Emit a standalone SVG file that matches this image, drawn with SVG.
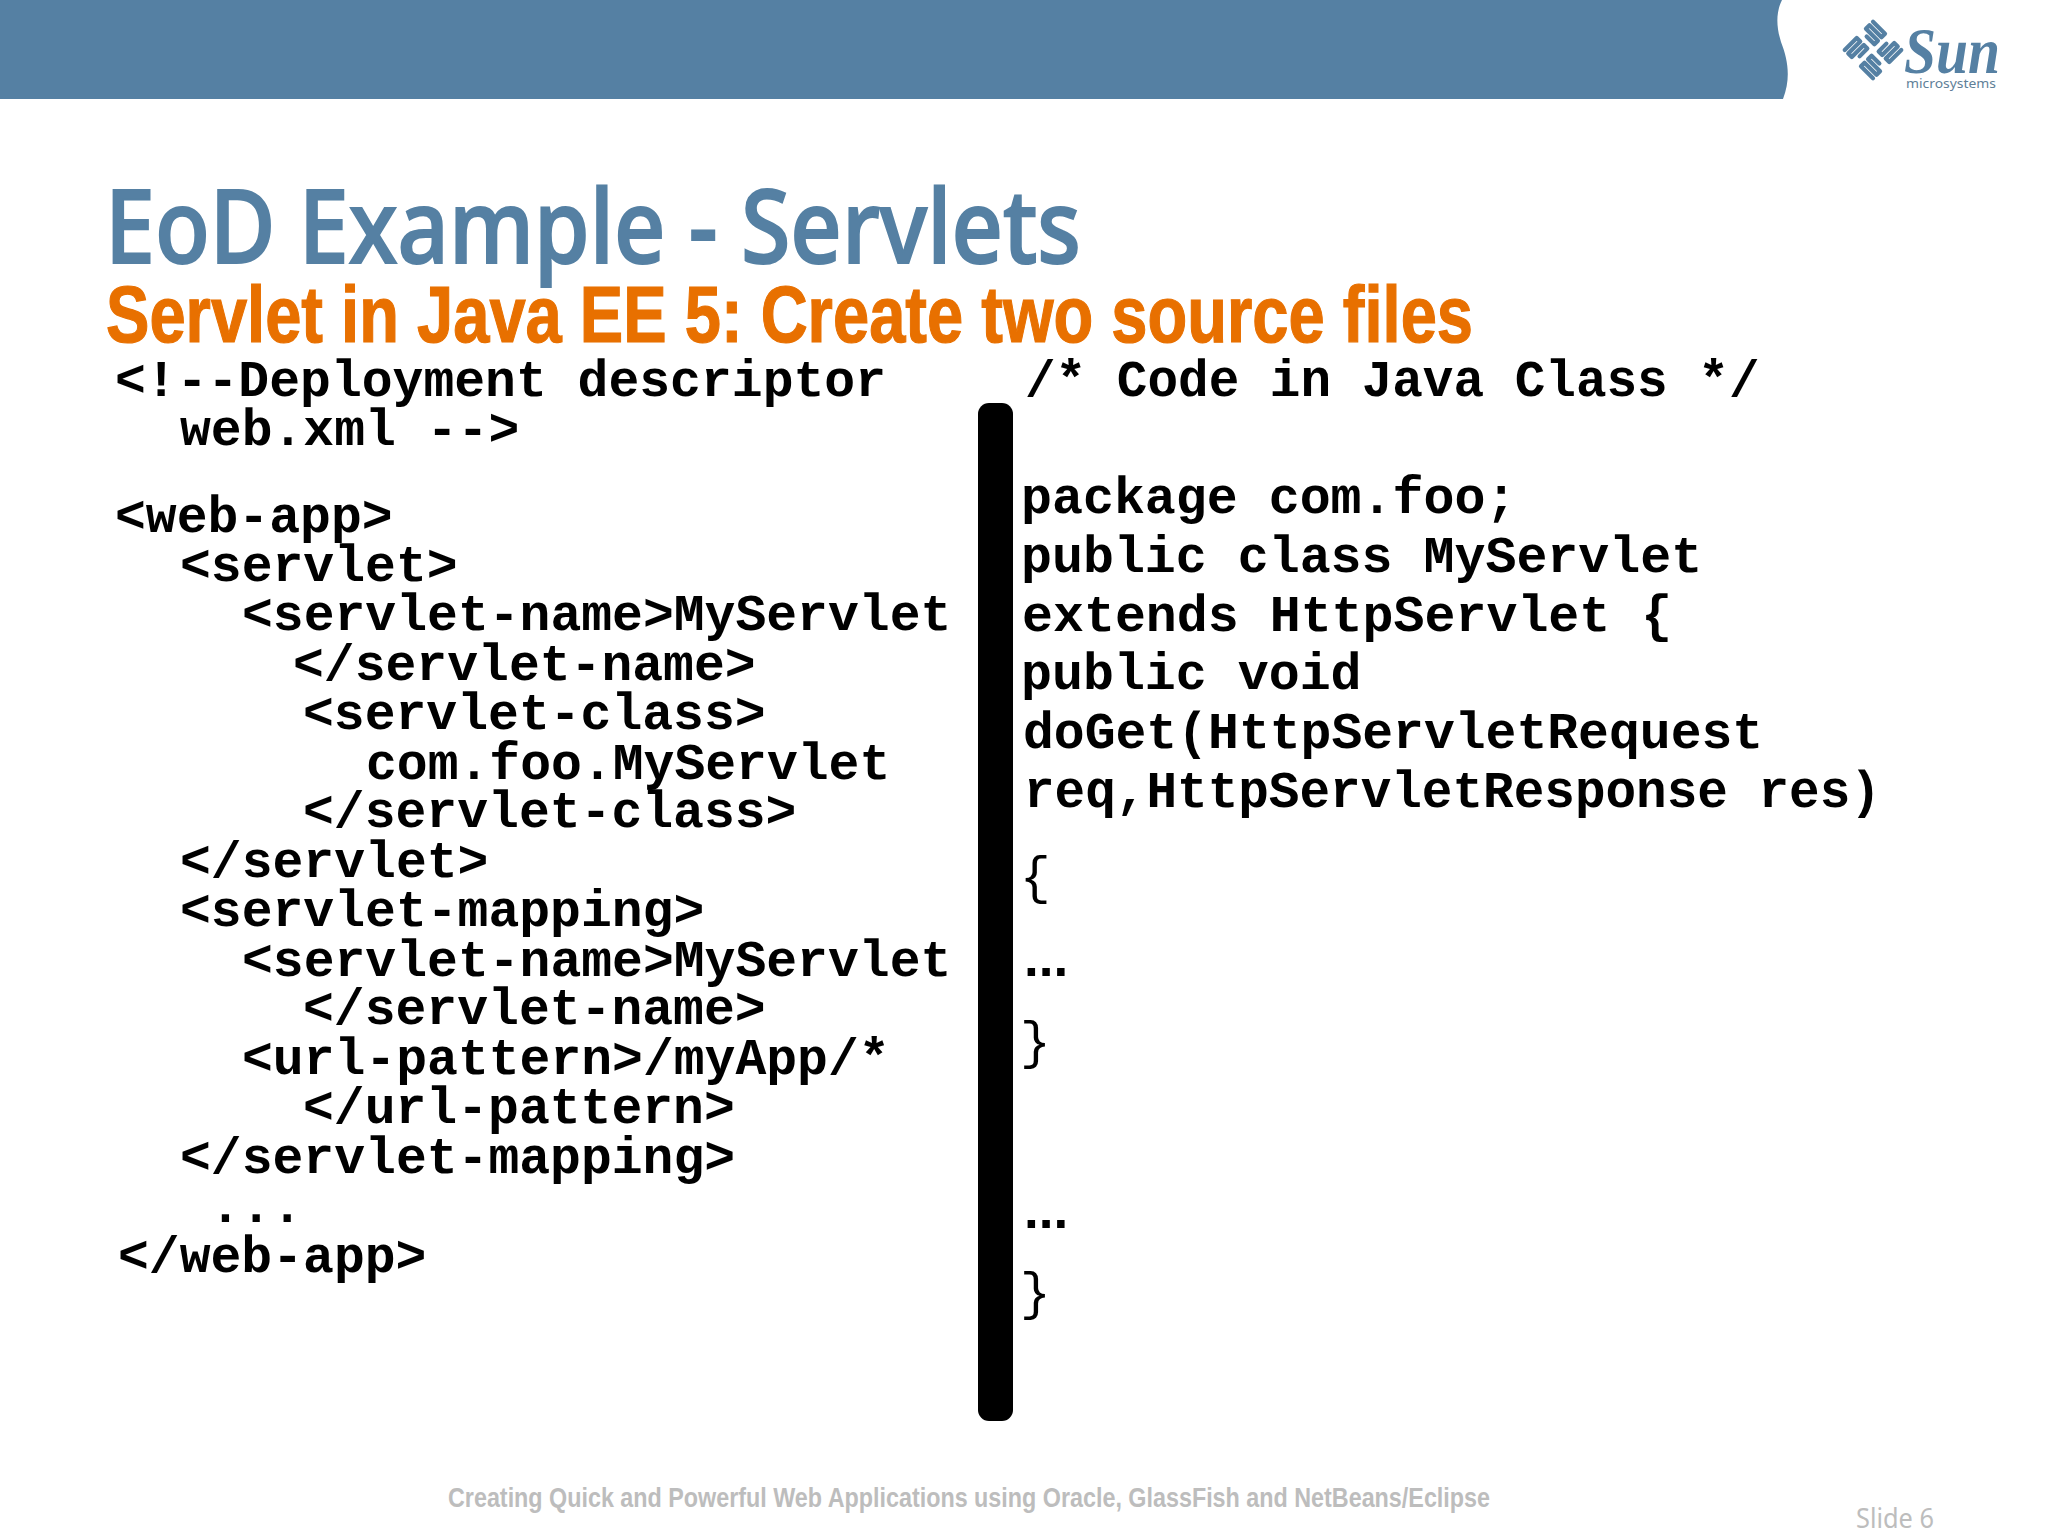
<svg xmlns="http://www.w3.org/2000/svg" width="2048" height="1536" viewBox="0 0 2048 1536">
<style>
.c{font-family:"Liberation Mono","Courier New",monospace;font-weight:700;font-size:51.4px;fill:#000;white-space:pre}
.r{font-size:51.6px}
.b{font-family:"Liberation Mono",monospace;font-size:51px;fill:#000}
.d{font-family:"Liberation Sans",sans-serif;font-weight:700;font-size:53px;fill:#000}
.u{fill:none;stroke:#5580a3;stroke-width:4.2;stroke-linecap:round;stroke-linejoin:round}
</style>
<rect width="2048" height="1536" fill="#fff"/>
<g id="banner"><path d="M0 0H1782C1776 12 1776 26 1781 42C1788 60 1791 78 1783 99H0Z" fill="#5580a3"/></g>
<g id="logo">
<g transform="translate(1873 50) rotate(45)" class="u">
<path d="M-20 -20H-3V-15H-20V-10H-3V-5H-14"/>
<path d="M20 -20V-3H15V-20H10V-3H5V-14"/>
<path d="M20 20H3V15H20V10H3V5H14"/>
<path d="M-20 20V3H-15V20H-10V3H-5V14"/>
</g>
<text x="1904" y="73" font-family="Liberation Serif,serif" font-style="italic" font-weight="700" font-size="66" fill="#5580a3" textLength="96" lengthAdjust="spacingAndGlyphs">Sun</text>
<text x="1906" y="88" font-family="Noto Sans,sans-serif" font-size="13" fill="#5f7f98" textLength="90" lengthAdjust="spacingAndGlyphs">microsystems</text>
</g>
<g id="title">
<text x="105" y="263" font-family="Noto Sans,sans-serif" font-weight="500" font-size="102" fill="#5580a3" stroke="#5580a3" stroke-width="2" textLength="976" lengthAdjust="spacingAndGlyphs">EoD Example - Servlets</text>
<text x="106" y="342" font-family="Liberation Sans,sans-serif" font-weight="700" font-size="79" fill="#e87000" stroke="#e87000" stroke-width="1.2" textLength="1367" lengthAdjust="spacingAndGlyphs">Servlet in Java EE 5: Create two source files</text>
</g>
<g id="web-xml">
<text class="c" x="115" y="396">&lt;!--Deployment descriptor</text>
<text class="c" x="180" y="445">web.xml --&gt;</text>
<text class="c" x="115" y="532">&lt;web-app&gt;</text>
<text class="c" x="180" y="581">&lt;servlet&gt;</text>
<text class="c" x="242" y="630">&lt;servlet-name&gt;MyServlet</text>
<text class="c" x="293" y="680">&lt;/servlet-name&gt;</text>
<text class="c" x="303" y="729">&lt;servlet-class&gt;</text>
<text class="c" x="366" y="779">com.foo.MyServlet</text>
<text class="c" x="303" y="827">&lt;/servlet-class&gt;</text>
<text class="c" x="180" y="877">&lt;/servlet&gt;</text>
<text class="c" x="180" y="926">&lt;servlet-mapping&gt;</text>
<text class="c" x="242" y="976">&lt;servlet-name&gt;MyServlet</text>
<text class="c" x="303" y="1024">&lt;/servlet-name&gt;</text>
<text class="c" x="242" y="1074">&lt;url-pattern&gt;/myApp/*</text>
<text class="c" x="303" y="1123">&lt;/url-pattern&gt;</text>
<text class="c" x="180" y="1173">&lt;/servlet-mapping&gt;</text>
<text class="c" x="210" y="1222">...</text>
<text class="c" x="118" y="1272">&lt;/web-app&gt;</text>
</g>
<g id="divider"><rect x="978" y="403" width="35" height="1018" rx="11" fill="#000"/></g>
<g id="java">
<text class="c" style="font-size:51px" x="1025" y="396">/* Code in Java Class */</text>
<text class="c r" x="1021" y="513">package com.foo;</text>
<text class="c r" x="1021" y="572">public class MyServlet</text>
<text class="c r" x="1022" y="631">extends HttpServlet {</text>
<text class="c r" x="1021" y="689">public void</text>
<text class="c" x="1023" y="748">doGet(HttpServletRequest</text>
<text class="c" style="font-size:51px" x="1024" y="807">req,HttpServletResponse res)</text>
<text class="b" x="1020" y="893">{</text>
<text class="d" x="1024" y="976">...</text>
<text class="b" x="1020" y="1058">}</text>
<text class="d" x="1024" y="1228">...</text>
<text class="b" x="1020" y="1309">}</text>
</g>
<g id="footer">
<text x="448" y="1507" font-family="Liberation Sans,sans-serif" font-weight="700" font-size="28" fill="#bdbdbd" textLength="1042" lengthAdjust="spacingAndGlyphs">Creating Quick and Powerful Web Applications using Oracle, GlassFish and NetBeans/Eclipse</text>
<text x="1856" y="1528" font-family="Noto Sans,sans-serif" font-size="28" fill="#bdbdbd" textLength="78" lengthAdjust="spacingAndGlyphs">Slide 6</text>
</g>
</svg>
